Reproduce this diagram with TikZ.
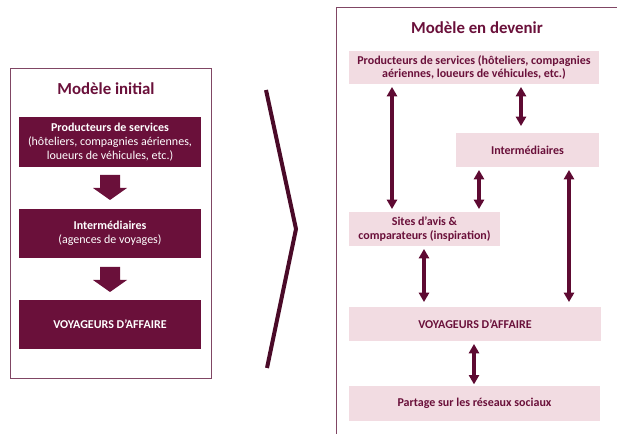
\documentclass[tikz,border=0pt]{standalone}
\usepackage{fontspec}
\setmainfont{Carlito}
\usetikzlibrary{arrows.meta}
\definecolor{maroon}{RGB}{106,16,58}
\definecolor{darkm}{RGB}{94,10,50}
\definecolor{chev}{RGB}{74,10,40}
\definecolor{lightp}{RGB}{242,220,226}
\definecolor{frame}{RGB}{128,70,100}
\tikzset{
  darkbox/.style={fill=maroon, text=white, align=center, inner sep=0pt,
    font=\fontsize{9}{10.5}\selectfont},
  lightbox/.style={fill=lightp, text=maroon, align=center, inner sep=0pt,
    font=\fontsize{9}{10}\selectfont\bfseries},
  titletext/.style={text=maroon, font=\fontsize{12.6}{14}\selectfont\bfseries},
  dbl/.style={darkm, line width=2.5pt, {Triangle[length=7pt,width=7.5pt]}-{Triangle[length=7pt,width=7.5pt]}, shorten <=2pt, shorten >=2pt},
  blockarrow/.style={fill=maroon, draw=none},
  framebox/.style={draw=frame, line width=0.75pt}
}
\begin{document}
\begin{tikzpicture}[x=0.75pt,y=-0.75pt]
\useasboundingbox (0,0) rectangle (617,434);
% left frame
\draw[framebox] (10,69) rectangle (211,378);
\node[titletext] (t1) at (106,89) {Modèle initial};
\node[darkbox, minimum width=182*0.75pt, minimum height=50*0.75pt] (L1) at (110,142)
  {\textbf{Producteurs de services}\\(hôteliers, compagnies aériennes,\\loueurs de véhicules, etc.)};
\node[darkbox, minimum width=182*0.75pt, minimum height=49*0.75pt] (L2) at (110,233.5)
  {\textbf{Intermédiaires}\\(agences de voyages)};
\node[darkbox, minimum width=182*0.75pt, minimum height=49*0.75pt] (L3) at (110,324.5)
  {\textbf{VOYAGEURS D’AFFAIRE}};
\fill[blockarrow] (100,175) -- (120,175) -- (120,188) -- (127,188) -- (110,200) -- (93,188) -- (100,188) -- cycle;
\fill[blockarrow] (100,267) -- (120,267) -- (120,280) -- (127,280) -- (110,292) -- (93,280) -- (100,280) -- cycle;
% chevron
\draw[chev, line width=3pt, line join=miter] (266,90) -- (296,229) -- (267,368);
% right frame
\draw[framebox] (617,8) -- (336,8) -- (336,434);
\node[titletext] (t2) at (477,28) {Modèle en devenir};
\node[lightbox, minimum width=250*0.75pt, minimum height=33*0.75pt] (P) at (474,67.5)
  {Producteurs de services (hôteliers, compagnies\\aériennes, loueurs de véhicules, etc.)};
\node[lightbox, minimum width=143*0.75pt, minimum height=34*0.75pt] (I) at (527.5,150)
  {Intermédiaires};
\node[lightbox, minimum width=151*0.75pt, minimum height=34*0.75pt] (S) at (424.5,229)
  {Sites d’avis \&\\comparateurs (inspiration)};
\node[lightbox, minimum width=252*0.75pt, minimum height=34*0.75pt] (V) at (475,324)
  {VOYAGEURS D’AFFAIRE};
\node[lightbox, minimum width=251*0.75pt, minimum height=35*0.75pt] (R) at (474.5,403.5)
  {Partage sur les réseaux sociaux};
% arrow x positions
\coordinate (x1) at (392,0);
\coordinate (x2) at (521,0);
\coordinate (x3) at (479,0);
\coordinate (x4) at (569,0);
\coordinate (x5) at (424,0);
\coordinate (x6) at (474,0);
\draw[dbl] (P.south -| x1) -- (S.north -| x1);
\draw[dbl, shorten >=5pt] (P.south -| x2) -- (I.north -| x2);
\draw[dbl] (I.south -| x3) -- (S.north -| x3);
\draw[dbl, shorten >=3.5pt] (I.south -| x4) -- (V.north -| x4);
\draw[dbl, shorten >=3.5pt] (S.south -| x5) -- (V.north -| x5);
\draw[dbl, shorten >=1pt] (V.south -| x6) -- (R.north -| x6);
\end{tikzpicture}
\end{document}
